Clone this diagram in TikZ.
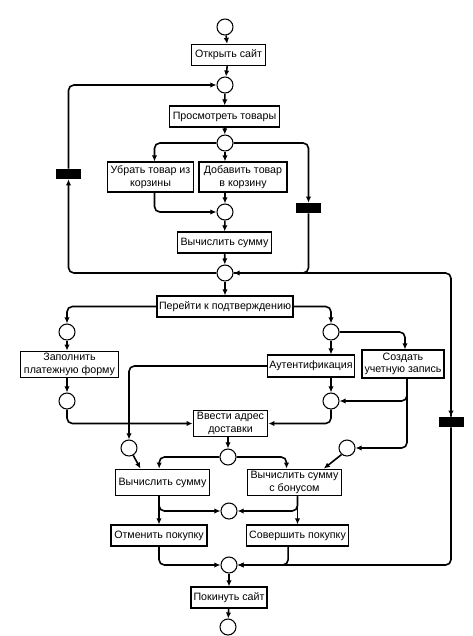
\documentclass[tikz,border=0pt]{standalone}
\usepackage{fontspec}
\setmainfont{Liberation Sans}
\usetikzlibrary{arrows.meta}

\begin{document}
\begin{tikzpicture}[x=0.75pt,y=0.75pt,yscale=-1,xscale=1,
  act/.style={draw,line width=0.9pt,fill=white,align=center,inner sep=1.5pt,minimum height=15.75pt,font=\fontsize{8}{9.5}\selectfont},
  place/.style={draw,circle,line width=0.8pt,minimum size=12pt,inner sep=0pt},
  bar/.style={fill=black,minimum width=18.75pt,minimum height=7.5pt,inner sep=0pt},
  flow/.style={line width=1.2pt,-{Latex[length=4.5pt,width=4pt]},rounded corners=4pt},
  ln/.style={line width=1.2pt,rounded corners=4pt}]
\useasboundingbox (0,0) rectangle (472,636);

%Shape: Circle (places)
\node[place] (p0) at (225,27) {};
\node[place] (p1) at (225,85) {};
\node[place] (p2) at (225,143) {};
\node[place] (p3) at (225,212) {};
\node[place] (p4) at (225,273) {};
\node[place] (p5) at (67,332) {};
\node[place] (p6) at (331,332) {};
\node[place] (p7) at (67,401) {};
\node[place] (p8) at (129,448) {};
\node[place] (p9) at (331,401) {};
\node[place] (p10) at (347,448) {};
\node[place] (p11) at (228,457) {};
\node[place] (p12) at (229,511) {};
\node[place] (p13) at (229,565) {};
\node[place] (p14) at (228,627) {};

%Shape: Rectangle (bars)
\node[bar] (t1) at (68.5,174) {};
\node[bar] (t2) at (308.5,208) {};
\node[bar] (t3) at (451,422) {};

% Text Node
\node[act,minimum width=56pt] (open) at (228.5,55) {Открыть сайт};
% Text Node
\node[act,minimum width=82pt] (browse) at (224.5,116.5) {Просмотреть товары};
% Text Node
\node[act,minimum width=65pt,minimum height=22.5pt] (remove) at (150.5,177) {Убрать товар из\\корзины};
% Text Node
\node[act,minimum width=66pt,minimum height=22.5pt] (add) at (243,177) {Добавить товар\\в корзину};
% Text Node
\node[act,minimum width=71pt] (calc1) at (224.5,242.5) {Вычислить сумму};
% Text Node
\node[act,minimum width=102pt] (confirm) at (225,306.5) {Перейти к подтверждению};
% Text Node
\node[act,minimum width=74pt,minimum height=20pt] (pay) at (69.5,364.5) {Заполнить\\платежную форму};
% Text Node
\node[act,minimum width=63pt,minimum height=16.5pt] (auth) at (311,366) {Аутентификация};
% Text Node
\node[act,minimum width=61.5pt,minimum height=21pt] (create) at (403,364) {Создать\\учетную запись};
% Text Node
\node[act,minimum width=56pt,minimum height=20pt] (addr) at (230.5,423.5) {Ввести адрес\\доставки};
% Text Node
\node[act,minimum width=71pt,minimum height=20pt] (calc2) at (162.5,482.5) {Вычислить сумму};
% Text Node
\node[act,minimum width=71pt,minimum height=20pt] (bonus) at (294.5,482.5) {Вычислить сумму\\с бонусом};
% Text Node
\node[act,minimum width=72pt] (cancel) at (159,535.5) {Отменить покупку};
% Text Node
\node[act,minimum width=76pt] (buy) at (297.5,535.5) {Совершить покупку};
% Text Node
\node[act,minimum width=57pt] (leave) at (229,597.5) {Покинуть сайт};

%Straight Lines (browsing)
\draw[flow] (p0) -- (open);
\draw[flow] (open) -- (p1);
\draw[flow] (p1) -- (browse);
\draw[flow] (browse) -- (p2);
\draw[flow] (p2.south) -- (p2.south |- add.north);
\draw[flow] (p2.west) -| ([xshift=3pt]remove.north);
\draw[flow] (p2.east) -| (t2.north);
\draw[flow] ([xshift=3pt]remove.south) |- (p3.west);
\draw[flow] (p3.north |- add.south) -- (p3.north);
\draw[flow] (p3) -- (calc1);
\draw[flow] (calc1) -- (p4);
\draw[flow] (p4.west) -| (t1.south);
\draw[flow] (t1.north) |- (p1.west);
\draw[ln] (p4.east) -| (t3.north);
\draw[flow] ([yshift=-6pt]t3.north) -- (t3.north);
\draw[flow] (t2.south) |- (p4.east);
\draw[flow] (t3.south) |- (p13.east);

%Straight Lines (confirmation)
\draw[flow] (p4) -- (confirm);
\draw[flow] (confirm.west) -| (p5.north);
\draw[flow] (confirm.east) -| (p6.north);
\draw[flow] (p5) -- (p5 |- pay.north);
\draw[flow] (p7 |- pay.south) -- (p7);
\draw[flow] (p7.south) |- (addr.west);
\draw[flow] (p6.south) -- (p6.south |- auth.north);
\draw[flow] (p6.east) -| ([xshift=1.5pt]create.north);
\draw[flow] (auth.west) -| (p8.north);
\draw[flow] (p9.north |- auth.south) -- (p9.north);
\draw[flow] ([xshift=3pt]create.south) |- (p9.east);
\draw[flow] ([xshift=3pt]create.south) |- (p10.east);
\draw[flow] (p9.south) |- (addr.east);
\draw[flow] (p11.north |- addr.south) -- (p11.north);

%Straight Lines (payment)
\draw[flow] (p11.west) -| ([xshift=-2.5pt]calc2.north);
\draw[flow] (p11.east) -| ([xshift=-6pt]bonus.north);
\draw[flow] (p8.-60) -- ([xshift=-16.5pt]calc2.north);
\draw[flow] (p10.-130) -- ([xshift=22pt]bonus.north);
\draw[flow] (cancel.north |- calc2.south) |- (p12.west);
\draw[flow] (cancel.north |- calc2.south) -- (cancel.north);
\draw[flow] (buy.north |- bonus.south) |- (p12.east);
\draw[flow] (buy.north |- bonus.south) -- (buy.north);
\draw[flow] (cancel.south) |- (p13.west);
\draw[flow] ([xshift=-7pt]buy.south) |- (p13.east);
\draw[flow] (p13) -- (leave);
\draw[flow] (leave) -- (p14);
\end{tikzpicture}
\end{document}
